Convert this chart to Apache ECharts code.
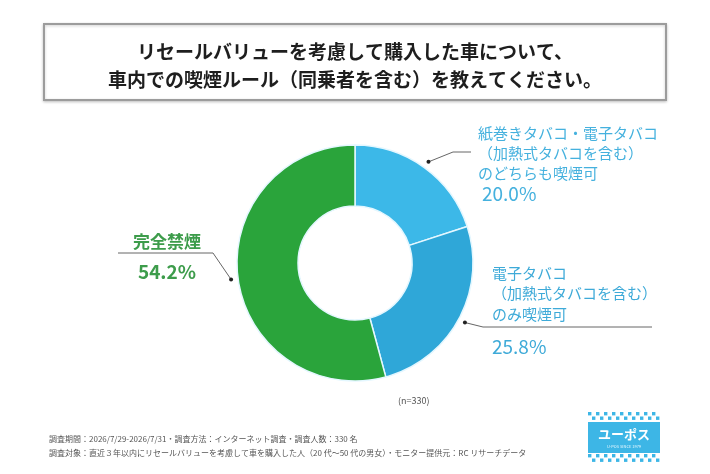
<!DOCTYPE html>
<html><head><meta charset="utf-8">
<script src="https://cdn.jsdelivr.net/npm/echarts@6/dist/echarts.min.js"></script>
<style>html,body{margin:0;padding:0;background:#fff}#c{width:710px;height:474px}</style>
</head><body><div id="c"></div>
<script>
// ---- data ----
const categories = [
  '紙巻きタバコ・電子タバコ\n（加熱式タバコを含む）\nのどちらも喫煙可',
  '電子タバコ\n（加熱式タバコを含む）\nのみ喫煙可',
  '完全禁煙'
];
const values = [20.0, 25.8, 54.2];
const sliceColors = ['#3cb8e8', '#2fa7d8', '#2aa43b'];
const labelColors = ['#45b1de', '#3eaad8', '#3d9c4b'];
const titleText = 'リセールバリューを考慮して購入した車について、\n車内での喫煙ルール（同乗者を含む）を教えてください。';
const footerText = '調査期間：2026/7/29-2026/7/31・調査方法：インターネット調査・調査人数：330 名\n調査対象：直近３年以内にリセールバリューを考慮して車を購入した人（20 代～50 代の男女）・モニター提供元：RC リサーチデータ';
const sampleNote = '(n=330)';

// ---- layout ----
const FONT = '"Noto Sans CJK JP","Noto Sans",sans-serif';
const CX = 355, CY = 263, R0 = 57, R1 = 118, DOT_OFF = 7;
const labelBoxes = [
  {x: 478, y: 123, align: 'left',   elbow: [453, 152], end: [471, 152]},
  {x: 492, y: 263, align: 'left',   elbow: [483, 327], end: [652, 327]},
  {x: 167, y: 231, align: 'center', elbow: [213, 253], end: [118, 253]}
];
const richDef = {
  n0: {fontSize: 15, lineHeight: 20, color: labelColors[0]},
  p0: {fontSize: 19, lineHeight: 22, color: labelColors[0], padding: [0, 0, 0, 4]},
  n1: {fontSize: 15, lineHeight: 20.5, color: labelColors[1]},
  p1: {fontSize: 19, lineHeight: 44, color: labelColors[1]},
  n2: {fontSize: 17, lineHeight: 22, color: labelColors[2], fontWeight: 'bold', align: 'center'},
  p2: {fontSize: 19, lineHeight: 38, color: labelColors[2], fontWeight: 'bold', align: 'center'}
};
Object.values(richDef).forEach(r => r.fontFamily = FONT);

const total = values.reduce((a, b) => a + b, 0);
function anchorPoint(i) {
  let before = 0;
  for (let k = 0; k < i; k++) before += values[k];
  const mid = (before + values[i] / 2) / total * Math.PI * 2;
  const r = R1 + DOT_OFF;
  return [CX + r * Math.sin(mid), CY - r * Math.cos(mid)];
}

// logo checker
const logo = [];
const LX = 588, LY = 412, LW = 72, SQ = 4;
for (let row = 0; row < 4; row++) {
  const y = row < 2 ? LY + row * 4.5 : LY + 42 + (row - 2) * 4.5;
  for (let c = 0; c < LW / SQ; c++) {
    if ((c + row) % 2 === 0) logo.push({type: 'rect', shape: {x: LX + c * SQ, y: y, width: SQ - 0.6, height: SQ - 0.6}, style: {fill: '#3db6e6'}});
  }
}
logo.push({type: 'rect', shape: {x: LX, y: LY + 10, width: LW, height: 31}, style: {fill: '#3db6e6'}});
logo.push({type: 'text', style: {x: LX + LW / 2, y: LY + 22, text: 'ユーポス', fill: '#fff', font: 'bold 13px ' + FONT, align: 'center', verticalAlign: 'middle'}});
logo.push({type: 'text', style: {x: LX + LW / 2, y: LY + 34, text: 'U-POS SINCE 1979', fill: '#e8f8ff', font: '4px ' + FONT, align: 'center', verticalAlign: 'middle'}});

const dots = values.map((v, i) => {
  const p = anchorPoint(i);
  return {type: 'circle', shape: {cx: p[0], cy: p[1], r: 2}, style: {fill: '#222'}, z: 10};
});

const chart = echarts.init(document.getElementById('c'), null, {renderer: 'canvas'});
chart.setOption({
  backgroundColor: '#fff',
  animation: false,
  title: [
    {text: titleText, left: 'center', top: 33,
     textStyle: {fontFamily: FONT, fontSize: 19, fontWeight: 'bold', color: '#1e1e1e', lineHeight: 28}},
    {text: footerText, left: 44, top: 427,
     textStyle: {fontFamily: FONT, fontSize: 8, fontWeight: 'normal', color: '#555', lineHeight: 14}},
    {text: sampleNote, left: 393, top: 391,
     textStyle: {fontFamily: FONT, fontSize: 9, fontWeight: 'normal', color: '#555'}}
  ],
  graphic: [
    {type: 'rect', shape: {x: 44, y: 24, width: 622, height: 76}, z: -1,
     style: {fill: '#fff', stroke: '#9c9c9c', lineWidth: 2, shadowBlur: 3, shadowColor: 'rgba(0,0,0,0.2)', shadowOffsetY: 1}},
    ...dots,
    ...logo
  ],
  series: [{
    type: 'pie',
    center: [CX, CY],
    radius: [R0, R1],
    startAngle: 90,
    clockwise: true,
    avoidLabelOverlap: false,
    itemStyle: {borderColor: '#e4f7ff', borderWidth: 1.5},
    emphasis: {disabled: true},
    data: values.map((v, i) => ({name: categories[i], value: v, itemStyle: {color: sliceColors[i]}})),
    label: {
      show: true,
      position: 'outside',
      fontFamily: FONT,
      formatter: p => {
        const i = p.dataIndex;
        return p.name.split('\n').map(s => '{n' + i + '|' + s + '}').join('\n') +
          '\n{p' + i + '|' + p.value.toFixed(1) + '%}';
      },
      rich: richDef
    },
    labelLine: {show: true, lineStyle: {color: '#666', width: 1}},
    labelLayout: params => {
      const b = labelBoxes[params.dataIndex];
      return {
        x: b.x, y: b.y, align: b.align, verticalAlign: 'top',
        labelLinePoints: [anchorPoint(params.dataIndex), b.elbow, b.end]
      };
    }
  }]
});
</script></body></html>
